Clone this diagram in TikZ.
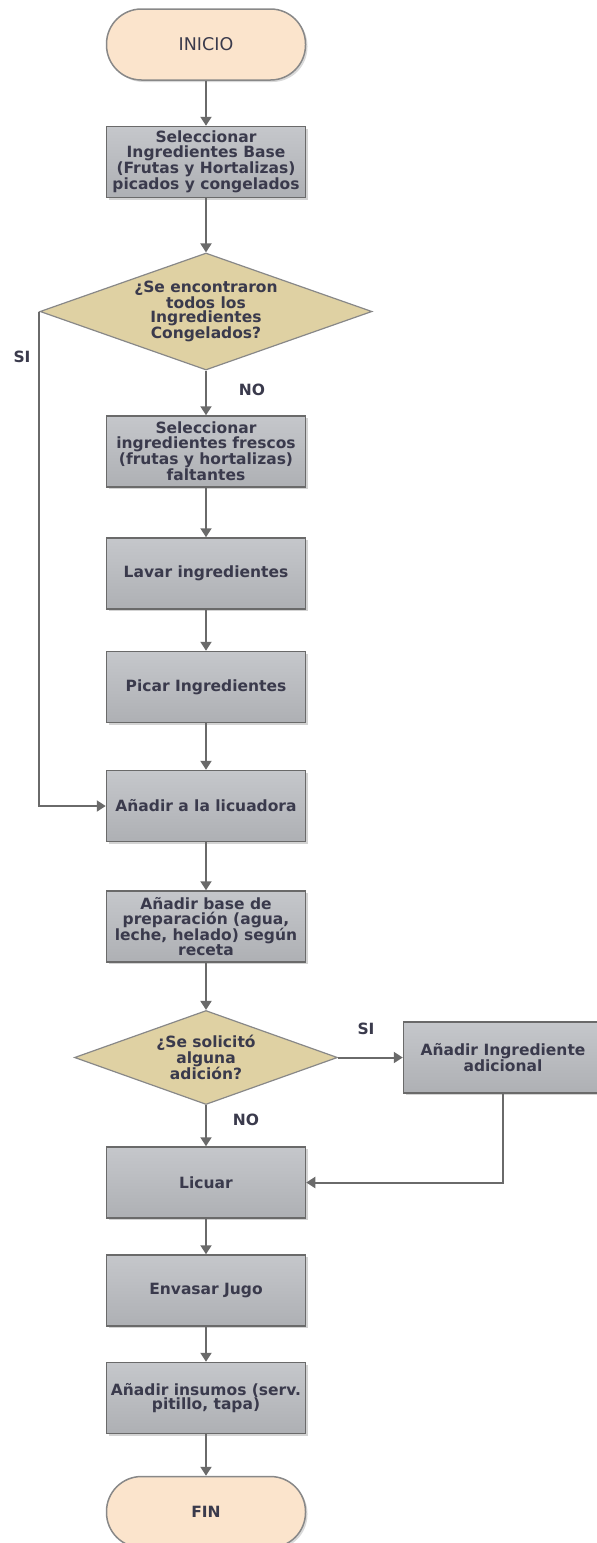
\documentclass[tikz,border=0pt]{standalone}
\usepackage{fontspec}
\setmainfont{DejaVu Sans}
\usepackage{tikz}
\usetikzlibrary{shapes,arrows.meta,shadows}

\definecolor{termfill}{HTML}{FBE4CC}
\definecolor{decfill}{HTML}{DFD1A3}
\definecolor{boxtop}{HTML}{C5C7CB}
\definecolor{boxbot}{HTML}{AEB0B4}
\definecolor{edge}{HTML}{6A6A6A}
\definecolor{txt}{HTML}{3A3A4C}

\newcommand{\chartfont}{\fontsize{15.5}{14.8}\selectfont}

\tikzset{
    process/.style={rectangle, draw=edge, line width=1.5, top color=boxtop, bottom color=boxbot,
        minimum width=199, minimum height=71, align=center, text=txt, font=\bfseries\chartfont,
        drop shadow={shadow xshift=2pt, shadow yshift=-2pt, opacity=0.35}},
    terminal/.style={rectangle, rounded corners=35, draw=edge!80, line width=1.5, fill=termfill,
        minimum width=199, minimum height=71, text=txt, font=\chartfont,
        drop shadow={shadow xshift=2pt, shadow yshift=-2pt, opacity=0.3}},
    decision/.style={diamond, aspect=2.84, draw=edge!80, line width=1.2, fill=decfill, inner sep=0,
        align=center, text=txt, font=\bfseries\chartfont},
    lbl/.style={text=txt, font=\bfseries\chartfont},
    flow/.style={draw=edge, line width=2, -{Triangle[width=11,length=9]}}
}

\begin{document}
\begin{tikzpicture}[x=1pt, y=-1pt]
    \useasboundingbox (0,0) rectangle (597,1543);

    \node [terminal, font=\fontsize{17.5}{18}\selectfont] (inicio) at (206,44.5) {INICIO};
    \node [process] (sel) at (206,162) {Seleccionar\\Ingredientes Base\\(Frutas y Hortalizas)\\picados y congelados};
    \node [decision, minimum width=332, minimum height=117] (dec1) at (206,311.5)
        {¿Se encontraron\\todos los\\Ingredientes\\Congelados?};
    \node [process] (fresh) at (206,451.5) {Seleccionar\\ingredientes frescos\\(frutas y hortalizas)\\faltantes};
    \node [process] (lavar) at (206,573.5) {Lavar ingredientes};
    \node [process] (picar) at (206,687) {Picar Ingredientes};
    \node [process] (licuadora) at (206,806) {Añadir a la licuadora};
    \node [process] (base) at (206,926.5) {Añadir base de\\preparación (agua,\\leche, helado) según\\receta};
    \node [decision, minimum width=263, minimum height=94] (dec2) at (206,1057.5)
        {¿Se solicitó\\alguna\\adición?};
    \node [process] (extra) at (503,1057.5) {Añadir Ingrediente\\adicional};
    \node [process] (licuar) at (206,1182.5) {Licuar};
    \node [process] (envasar) at (206,1290.5) {Envasar Jugo};
    \node [process] (insumos) at (206,1398) {Añadir insumos (serv.\\pitillo, tapa)};
    \node [terminal, font=\bfseries\chartfont] (fin) at (206,1512) {FIN};

    \node [lbl] (si1) at (22,357) {SI};
    \node [lbl] (no1) at (252,390) {NO};
    \node [lbl] (si2) at (366,1029) {SI};
    \node [lbl] (no2) at (246,1120) {NO};

    \draw [flow] (inicio) -- (sel);
    \draw [flow] (sel) -- (dec1);
    \draw [flow] (dec1) -- (fresh);
    \draw [flow] (fresh) -- (lavar);
    \draw [flow] (lavar) -- (picar);
    \draw [flow] (picar) -- (licuadora);
    \draw [flow] (dec1.west) |- (licuadora.west);
    \draw [flow] (licuadora) -- (base);
    \draw [flow] (base) -- (dec2);
    \draw [flow] (dec2) -- (extra);
    \draw [flow] (dec2) -- (licuar);
    \draw [flow] (extra.south) |- (licuar.east);
    \draw [flow] (licuar) -- (envasar);
    \draw [flow] (envasar) -- (insumos);
    \draw [flow] (insumos) -- (fin);
\end{tikzpicture}
\end{document}
